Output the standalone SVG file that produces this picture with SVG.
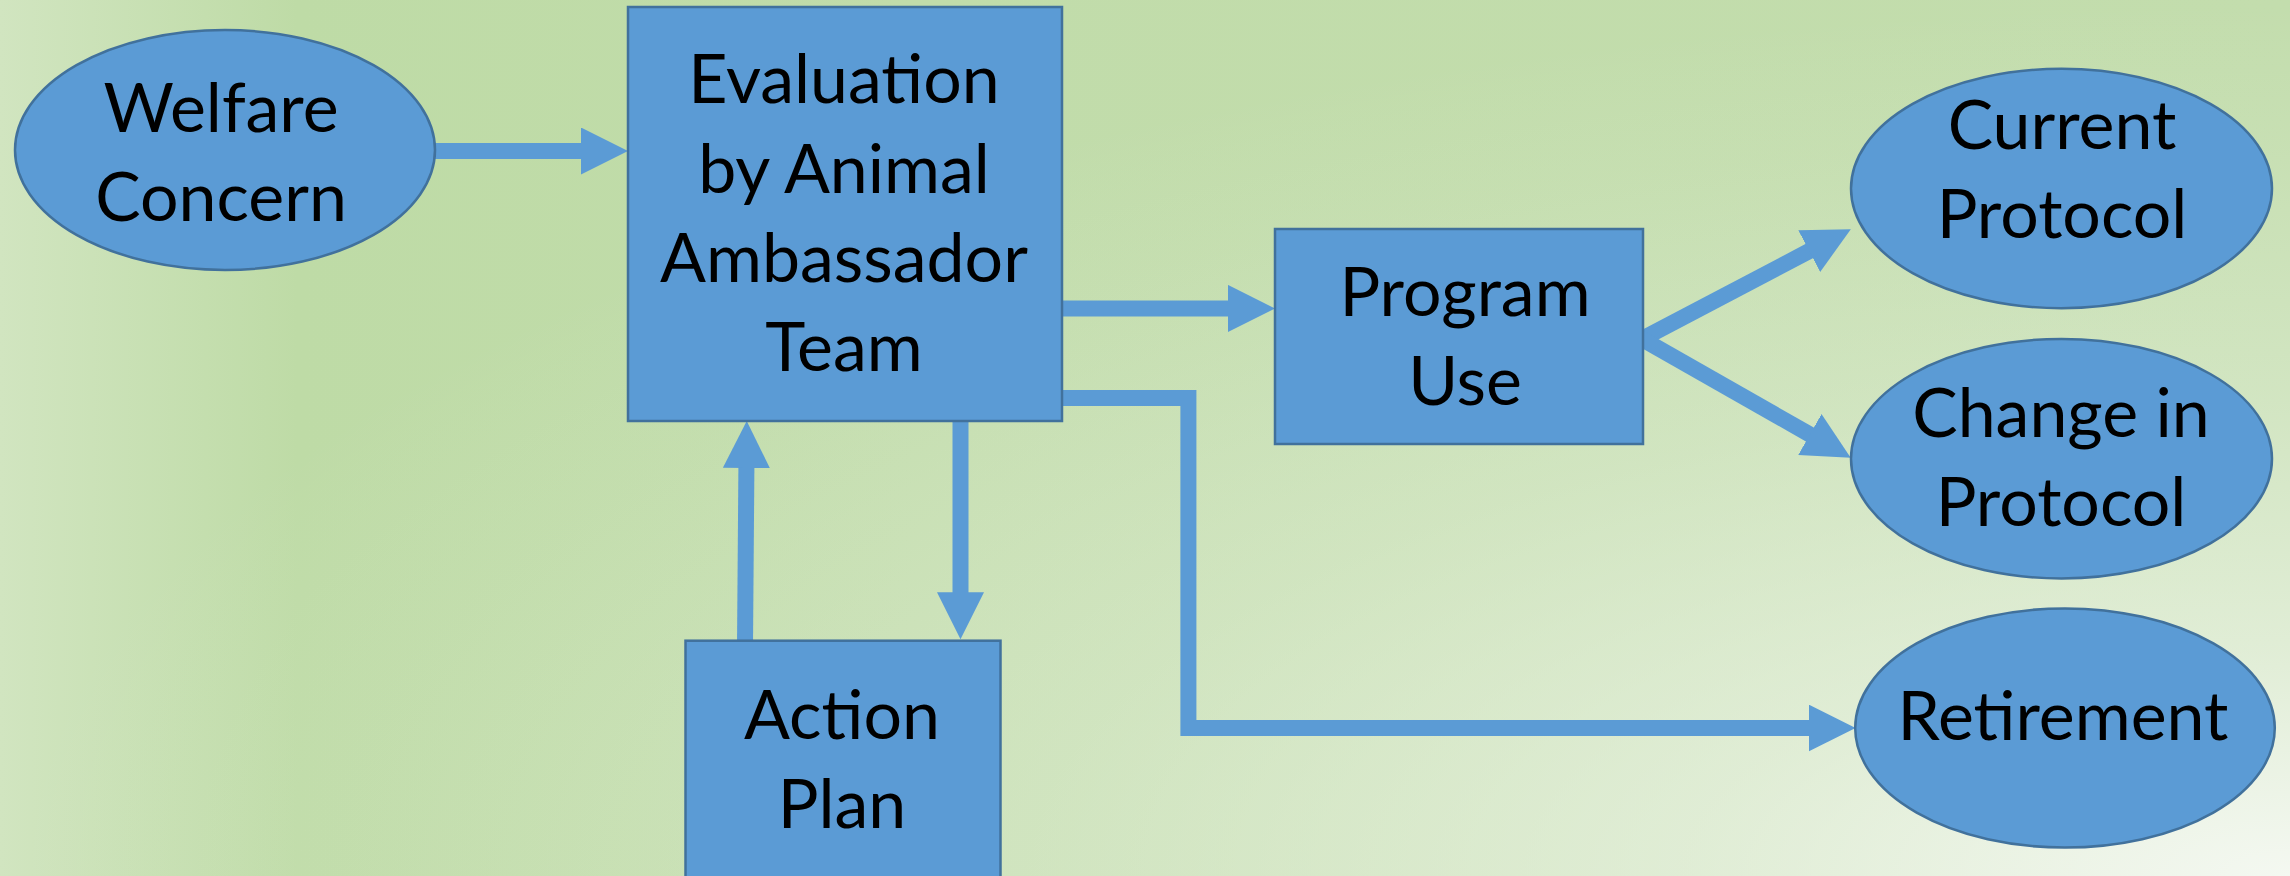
<svg xmlns="http://www.w3.org/2000/svg" width="2290" height="876" viewBox="0 0 2290 876">
  <defs>
    <linearGradient id="bgBase" x1="0" y1="0" x2="1" y2="0">
      <stop offset="0" stop-color="#d1e5c0"/>
      <stop offset="0.13" stop-color="#bedba6"/>
      <stop offset="0.4" stop-color="#c1dcaa"/>
      <stop offset="1" stop-color="#c3ddad"/>
    </linearGradient>
    <radialGradient id="bgGlow" cx="1" cy="1" r="1" fx="1" fy="1">
      <stop offset="0" stop-color="#f4f8f1" stop-opacity="1"/>
      <stop offset="0.26" stop-color="#f4f8f1" stop-opacity="0.6"/>
      <stop offset="0.55" stop-color="#f4f8f1" stop-opacity="0.3"/>
      <stop offset="0.85" stop-color="#f4f8f1" stop-opacity="0.08"/>
      <stop offset="1" stop-color="#f4f8f1" stop-opacity="0"/>
    </radialGradient>
    <marker id="head" viewBox="0 0 47 47" markerWidth="47" markerHeight="47" markerUnits="userSpaceOnUse" refX="2" refY="23.5" orient="auto">
      <path d="M0,0 L47,23.5 L0,47 Z" fill="#5b9bd5"/>
    </marker>
    <style>
      .node { fill: #5b9bd5; stroke: #41719c; stroke-width: 2.5; }
      .conn { fill: none; stroke: #5b9bd5; stroke-width: 16; stroke-linejoin: miter; }
      .lbl { font-family: "Lato", "Liberation Sans", sans-serif; font-size: 68px; fill: #000; text-anchor: middle; }
    </style>
  </defs>

  <rect x="0" y="0" width="2290" height="876" fill="url(#bgBase)"/>
  <rect x="0" y="0" width="2290" height="876" fill="url(#bgGlow)"/>

  <g id="connectors">
    <path class="conn" d="M430,151 L583,151" marker-end="url(#head)"/>
    <path class="conn" d="M1055,308.4 L1230,308.4" marker-end="url(#head)"/>
    <path class="conn" d="M1055,398 H1188.4 V728 H1810.6" marker-end="url(#head)"/>
    <path class="conn" d="M960.5,415 L960.5,594.3" marker-end="url(#head)"/>
    <path class="conn" d="M745,646 L746.4,466" marker-end="url(#head)"/>
    <path class="conn" d="M1635,342.7 L1811,250.2" marker-end="url(#head)"/>
    <path class="conn" d="M1635,335 L1811.6,435.5" marker-end="url(#head)"/>
  </g>

  <g id="welfare-concern">
    <ellipse class="node" cx="225" cy="150" rx="210" ry="120"/>
    <text class="lbl" x="221" y="131.7">Welfare</text>
    <text class="lbl" x="221" y="220.7">Concern</text>
  </g>

  <g id="evaluation">
    <rect class="node" x="628" y="7" width="434" height="414"/>
    <text class="lbl" x="844" y="102.7">Evaluation</text>
    <text class="lbl" x="844" y="192.7">by Animal</text>
    <text class="lbl" x="844" y="282">Ambassador</text>
    <text class="lbl" x="844" y="370.7">Team</text>
  </g>

  <g id="program-use">
    <rect class="node" x="1275" y="229" width="368" height="215"/>
    <text class="lbl" x="1465" y="315.5">Program</text>
    <text class="lbl" x="1465" y="404.5">Use</text>
  </g>

  <g id="action-plan">
    <rect class="node" x="685.5" y="640.7" width="315" height="250"/>
    <text class="lbl" x="842" y="739.3">Action</text>
    <text class="lbl" x="842" y="828.3">Plan</text>
  </g>

  <g id="current-protocol">
    <ellipse class="node" cx="2061.5" cy="188.5" rx="210.5" ry="119.7"/>
    <text class="lbl" x="2062" y="149">Current</text>
    <text class="lbl" x="2062" y="238.3">Protocol</text>
  </g>

  <g id="change-in-protocol">
    <ellipse class="node" cx="2061.5" cy="458.7" rx="210.5" ry="119.8"/>
    <text class="lbl" x="2061" y="437">Change in</text>
    <text class="lbl" x="2061" y="526.4">Protocol</text>
  </g>

  <g id="retirement">
    <ellipse class="node" cx="2065" cy="728" rx="209.8" ry="119.6"/>
    <text class="lbl" x="2063" y="740">Retirement</text>
  </g>
</svg>
